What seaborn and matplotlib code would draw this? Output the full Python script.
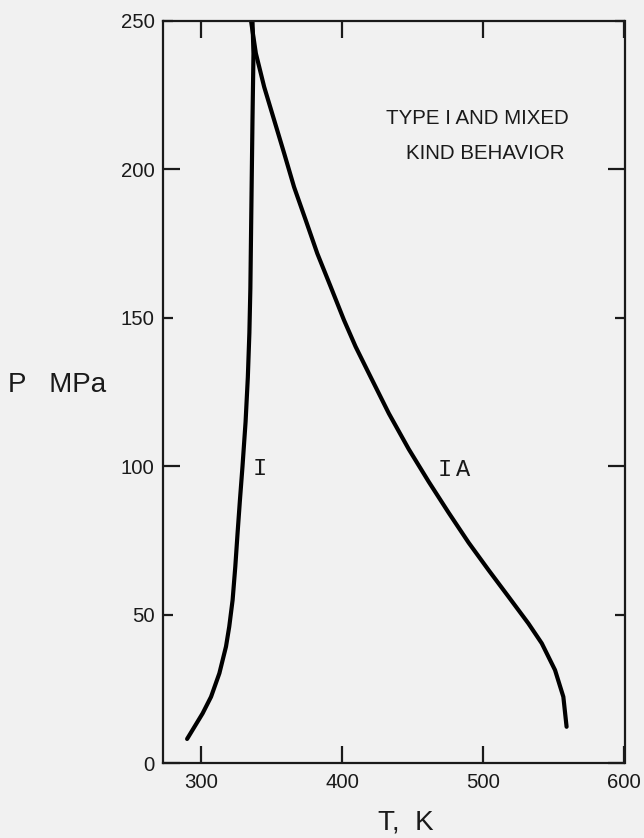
import numpy as np
import pandas as pd
import matplotlib
matplotlib.use("Agg")
import matplotlib.pyplot as plt
import seaborn as sns

# ---- data ----
curve_I_T = [290.1, 301.1, 307.1, 313.0, 317.7, 320.0, 322.4, 324.3, 325.9, 327.6,
             329.4, 331.6, 333.2, 334.3, 335.0, 335.6, 336.5, 337.2, 336.5]
curve_I_P = [8.2, 16.8, 22.4, 30.3, 39.3, 46.0, 55.0, 66.2, 77.4, 88.7,
             99.9, 115.0, 130.0, 145.0, 160.0, 183.0, 216.6, 239.0, 250.0]

curve_IA_T = [335.4, 338.9, 344.8, 351.9, 359.0, 366.0, 374.3, 382.5, 392.0, 401.4,
              409.7, 419.1, 433.3, 447.4, 461.6, 475.7, 489.9, 504.0, 518.2, 532.3,
              541.8, 551.2, 557.1, 559.4]
curve_IA_P = [250.3, 239.1, 227.8, 216.6, 205.4, 194.1, 182.9, 171.7, 160.5, 149.3,
              140.3, 131.3, 117.8, 105.8, 94.8, 84.4, 74.3, 65.1, 56.1, 47.1,
              40.4, 31.4, 22.4, 12.3]

x_ticks = [300, 400, 500, 600]
y_ticks = [0, 50, 100, 150, 200, 250]

# ---- style ----
sns.set_theme(style="ticks")
plt.rcParams["font.family"] = ["Liberation Sans", "DejaVu Sans"]
bg = "#f1f1f1"
ink = "#1a1a1a"

fig = plt.figure(figsize=(6.44, 8.38), dpi=100, facecolor=bg)
ax = fig.add_axes([163 / 644, 1 - 763.3 / 838, 461.5 / 644, 742.3 / 838])
ax.set_facecolor(bg)

df_I = pd.DataFrame({"T": curve_I_T, "P": curve_I_P})
df_IA = pd.DataFrame({"T": curve_IA_T, "P": curve_IA_P})
sns.lineplot(data=df_I, x="T", y="P", sort=False, estimator=None, color="black",
             linewidth=3.0, ax=ax)
sns.lineplot(data=df_IA, x="T", y="P", sort=False, estimator=None, color="black",
             linewidth=3.0, ax=ax)
for ln in ax.lines:
    ln.set_solid_joinstyle("round")
    ln.set_solid_capstyle("round")

ax.set_xlim(273, 600.5)
ax.set_ylim(0, 250)
ax.set_xticks(x_ticks)
ax.set_yticks(y_ticks)
ax.set_xticklabels([str(v) for v in x_ticks])
ax.set_yticklabels([str(v) for v in y_ticks])

for s in ax.spines.values():
    s.set_visible(True)
    s.set_linewidth(1.6)
    s.set_color(ink)

ax.tick_params(axis="both", direction="in", width=1.6, color=ink,
               labelsize=14.7, labelcolor=ink, top=True, right=True)
ax.tick_params(axis="x", length=12.5, pad=7)
ax.tick_params(axis="y", length=12.5, pad=6)
for v, t in zip(y_ticks, ax.yaxis.get_major_ticks()):
    if v in (50, 150, 250):
        t.tick1line.set_markersize(7)
        t.tick2line.set_markersize(7)

ax.set_xlabel("T,  K", fontsize=20, color=ink, va="center")
ax.xaxis.set_label_coords(0.527, -0.080)
ax.set_ylabel("P   MPa", fontsize=20, color=ink, rotation=0,
              ha="center", va="center")
ax.yaxis.set_label_coords(-0.23, 0.51)

ax.text(496.3, 217, "TYPE I AND MIXED", fontsize=14.8, ha="center", va="center",
        color=ink)
ax.text(501.6, 205.5, "KIND BEHAVIOR", fontsize=14.8, ha="center", va="center",
        color=ink)

mono = ["Liberation Mono", "DejaVu Sans Mono"]
ax.text(341.8, 99.3, "I", fontsize=17, family=mono, ha="center", va="center",
        color=ink)
ax.text(472.9, 99.0, "I", fontsize=17, family=mono, ha="center", va="center",
        color=ink)
ax.text(485.8, 99.0, "A", fontsize=17, family=mono, ha="center", va="center",
        color=ink)

fig.savefig("out.png", dpi=100, facecolor=bg)
